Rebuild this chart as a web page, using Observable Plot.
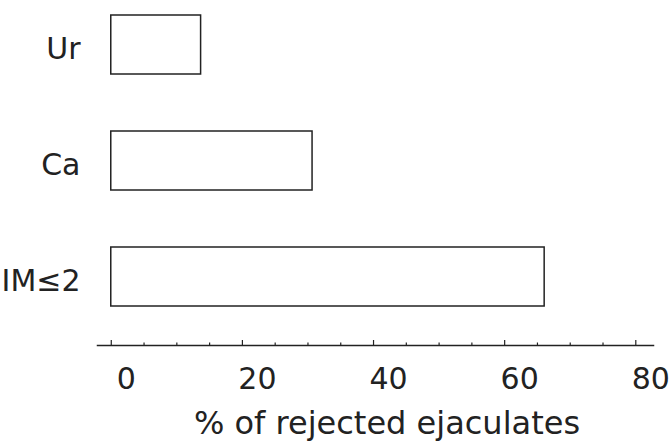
<!DOCTYPE html>
<html>
<head>
<meta charset="utf-8">
<script src="https://cdn.jsdelivr.net/npm/d3@7"></script>
<script src="https://cdn.jsdelivr.net/npm/@observablehq/plot@0.6"></script>
<style>
  html, body { margin: 0; padding: 0; background: #fff; }
  #chart svg { display: block; }
</style>
</head>
<body>
<div id="chart"></div>
<script>
const categories = ["Ur", "Ca", "IM≤2"];
const values = [13.7, 30.7, 66.1];
const majorTicks = [0, 20, 40, 60, 80];
const minorTicks = [5, 10, 15, 25, 30, 35, 45, 50, 55, 65, 70, 75];
const xLabel = "% of rejected ejaculates";

const data = categories.map((c, i) => ({cat: c, value: values[i]}));
const font = "DejaVu Sans, sans-serif";
const ink = "#222";

const chart = Plot.plot({
  width: 669,
  height: 443,
  marginLeft: 97,
  marginRight: 16,
  marginTop: 0,
  marginBottom: 98,
  style: {fontFamily: font, background: "#fff", color: ink},
  x: {domain: [-2.1, 82.7], axis: null},
  y: {domain: categories, axis: null, paddingInner: 0.4936, paddingOuter: 0.2275, align: 0.283},
  marks: [
    Plot.barX(data, {x: "value", y: "cat", fill: "white", stroke: ink, strokeWidth: 1.5}),
    Plot.frame({anchor: "bottom", stroke: ink, strokeWidth: 1.5}),
    Plot.axisX({ticks: minorTicks, tickSize: -2.5, text: null, label: null, stroke: ink, strokeWidth: 1.2}),
    Plot.axisX({ticks: majorTicks, tickSize: -5, text: null, label: null, stroke: ink, strokeWidth: 1.2}),
    Plot.axisX({ticks: majorTicks, tickSize: 0, tickPadding: 22, dx: 15, label: null, fontSize: 30, fill: ink}),
    Plot.axisY({tickSize: 0, tickPadding: 17, dy: 4, label: null, fontSize: 30, fill: ink}),
    Plot.text([xLabel], {frameAnchor: "bottom", dx: 11.5, dy: 78, fontSize: 32, fill: ink, lineAnchor: "middle"})
  ]
});
document.getElementById("chart").appendChild(chart);
</script>
</body>
</html>
